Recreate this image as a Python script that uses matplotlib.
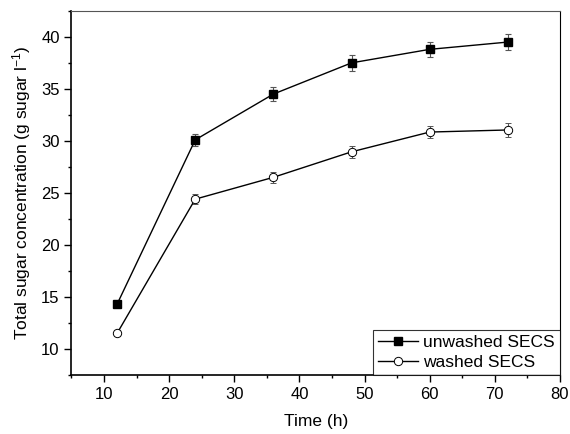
import matplotlib.pyplot as plt
from matplotlib.ticker import MultipleLocator

plt.rcParams['font.family'] = ['Liberation Sans', 'DejaVu Sans']
plt.rcParams['mathtext.fontset'] = 'custom'
plt.rcParams['mathtext.rm'] = 'Liberation Sans'
plt.rcParams['mathtext.it'] = 'Liberation Sans:italic'

time_h = [12, 24, 36, 48, 60, 72]
unwashed = [14.3, 30.1, 34.5, 37.5, 38.8, 39.5]
unwashed_err = [0.0, 0.6, 0.7, 0.75, 0.75, 0.75]
washed = [11.5, 24.4, 26.5, 28.95, 30.85, 31.05]
washed_err = [0.0, 0.45, 0.5, 0.55, 0.6, 0.65]

fig = plt.figure(figsize=(5.7, 4.34), dpi=100)
ax = fig.add_axes([0.1254, 0.136, 0.857, 0.839])

ax.errorbar(time_h, unwashed, yerr=unwashed_err, color='black', marker='s',
            markersize=5.5, linewidth=1.0, ecolor='#555555', elinewidth=0.8,
            capsize=2.5, capthick=0.8, label='unwashed SECS')
ax.errorbar(time_h, washed, yerr=washed_err, color='black', marker='o',
            markersize=6, markerfacecolor='white', markeredgewidth=0.7,
            linewidth=1.0, ecolor='#555555', elinewidth=0.8,
            capsize=2.5, capthick=0.8, label='washed SECS')

ax.set_xlim(5, 80)
ax.set_ylim(7.5, 42.5)
ax.xaxis.set_major_locator(MultipleLocator(10))
ax.xaxis.set_minor_locator(MultipleLocator(5))
ax.yaxis.set_major_locator(MultipleLocator(5))
ax.yaxis.set_minor_locator(MultipleLocator(2.5))
ax.tick_params(which='both', direction='out', labelsize=12, width=1)
ax.tick_params(which='major', length=5)
ax.tick_params(which='minor', length=2.5)
ax.spines['top'].set_color('#555555')
ax.spines['left'].set_linewidth(1.2)
ax.spines['bottom'].set_linewidth(1.2)

ax.set_xlabel('Time (h)', fontsize=12.5, labelpad=9)
ax.set_ylabel('Total sugar concentration (g sugar l$^{\\mathregular{-1}}$)', fontsize=12.5, labelpad=6)

h, l = ax.get_legend_handles_labels()
h = [x[0] for x in h]
leg = ax.legend(h, l, loc='lower right', fontsize=12.5, frameon=True, fancybox=False,
                borderaxespad=0, handlelength=2.3, handletextpad=0.3,
                labelspacing=0.25, borderpad=0.3)
leg.get_frame().set_edgecolor('black')
leg.get_frame().set_linewidth(0.8)

plt.savefig('out.png', dpi=100)
